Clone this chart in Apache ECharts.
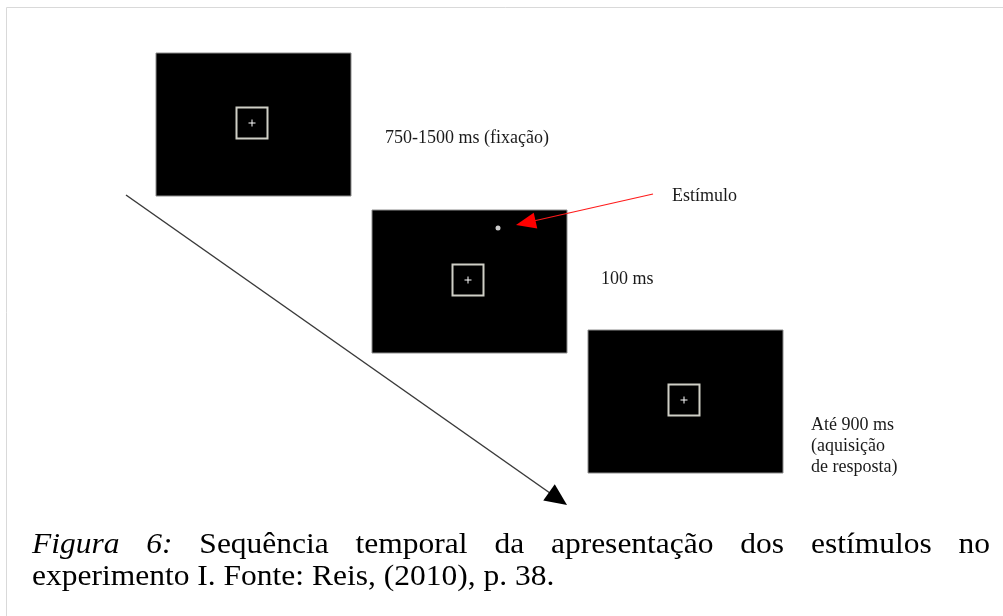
<!DOCTYPE html>
<html>
<head>
<meta charset="utf-8">
<script src="https://cdn.jsdelivr.net/npm/echarts@6/dist/echarts.min.js"></script>
<style>
  html, body { margin: 0; padding: 0; background: #fff; }
  #main { width: 1003px; height: 616px; }
</style>
</head>
<body>
<div id="main"></div>
<script>
// diagram coordinates (page pixels, y grows downward)
var screenX = [156, 372, 588];
var screenY = [53, 210, 330];
var fixX = [252, 468, 684];
var fixY = [123, 280, 400];
var stimulus = [[498, 228]];

// time arrow and pointer to the stimulus: [x1, y1, x2, y2]
var timeArrow = [[126, 195, 567, 505]];
var stimArrow = [[653, 194, 516, 225]];

// labels beside the screens
var labelText = ['750-1500 ms (fixação)', 'Estímulo', '100 ms', 'Até 900 ms', '(aquisição', 'de resposta)'];
var labelX = [385, 672, 601, 811, 811, 811];
var labelY = [138, 196, 279, 425, 446, 467];

// caption
var captionLine1 = ['Figura', '6:', 'Sequência', 'temporal', 'da', 'apresentação', 'dos', 'estímulos', 'no'];
var captionItalic = [true, true, false, false, false, false, false, false, false];
var captionLine2 = 'experimento I. Fonte: Reis, (2010), p. 38.';

var SCREEN_W = 195, SCREEN_H = 143, FIX_SIZE = 31;
var CAP_SIZE = 30, CAP_SCALE = 1.05, CAP_LEFT = 32, CAP_RIGHT = 990;
var serif = '"Liberation Serif", "Times New Roman", serif';

// justify caption line 1 the way the page does
var ctx = document.createElement('canvas').getContext('2d');
var widths = captionLine1.map(function (w, i) {
  ctx.font = (captionItalic[i] ? 'italic ' : '') + CAP_SIZE + 'px ' + serif;
  return ctx.measureText(w).width * CAP_SCALE;
});
var total = widths.reduce(function (a, b) { return a + b; }, 0);
var gap = (CAP_RIGHT - CAP_LEFT - total) / (captionLine1.length - 1);
var captionX = [];
var cx = CAP_LEFT;
for (var i = 0; i < widths.length; i++) { captionX.push(cx); cx += widths[i] + gap; }

var chart = echarts.init(document.getElementById('main'));

function renderFrame(params, api) {
  var p = api.coord([6, 7]);
  return {
    type: 'rect', shape: { x: p[0] + 0.5, y: p[1] + 0.5, width: 1100, height: 700 },
    style: { fill: null, stroke: '#d9d9d9', lineWidth: 1 }
  };
}

function renderScreen(params, api) {
  var i = params.dataIndex;
  var p0 = api.coord([screenX[i], screenY[i]]);
  var p1 = api.coord([screenX[i] + SCREEN_W, screenY[i] + SCREEN_H]);
  var c = api.coord([fixX[i], fixY[i]]);
  var h = FIX_SIZE / 2;
  return {
    type: 'group',
    children: [
      { type: 'rect', shape: { x: p0[0], y: p0[1], width: p1[0] - p0[0], height: p1[1] - p0[1] },
        style: { fill: '#000', stroke: '#8c8c8c', lineWidth: 1 } },
      { type: 'rect', shape: { x: c[0] - h, y: c[1] - h, width: FIX_SIZE, height: FIX_SIZE },
        style: { fill: null, stroke: '#cfcfc6', lineWidth: 2 } },
      { type: 'line', shape: { x1: c[0] - 3.5, y1: c[1], x2: c[0] + 3.5, y2: c[1] },
        style: { stroke: '#fff', lineWidth: 1 } },
      { type: 'line', shape: { x1: c[0], y1: c[1] - 3.5, x2: c[0], y2: c[1] + 3.5 },
        style: { stroke: '#fff', lineWidth: 1 } }
    ]
  };
}

function arrowRenderer(color, headColor, width, headLen, headHalf) {
  return function (params, api) {
    var a = api.coord([api.value(0), api.value(1)]);
    var b = api.coord([api.value(2), api.value(3)]);
    var dx = b[0] - a[0], dy = b[1] - a[1];
    var len = Math.sqrt(dx * dx + dy * dy);
    var ux = dx / len, uy = dy / len;
    var bx = b[0] - ux * headLen, by = b[1] - uy * headLen;
    return {
      type: 'group',
      children: [
        { type: 'line', shape: { x1: a[0], y1: a[1], x2: bx + ux * 2, y2: by + uy * 2 },
          style: { stroke: color, lineWidth: width } },
        { type: 'polygon',
          shape: { points: [b, [bx - uy * headHalf, by + ux * headHalf], [bx + uy * headHalf, by - ux * headHalf]] },
          style: { fill: headColor } }
      ]
    };
  };
}

function renderLabel(params, api) {
  var i = params.dataIndex;
  var p = api.coord([labelX[i], labelY[i]]);
  return {
    type: 'text', x: p[0], y: p[1],
    style: { text: labelText[i], fill: '#1a1a1a', font: '18px ' + serif, align: 'left', verticalAlign: 'middle' }
  };
}

function renderCaption(params, api) {
  var i = params.dataIndex;
  var line1 = i < captionLine1.length;
  var p = line1 ? api.coord([captionX[i], 545.5]) : api.coord([CAP_LEFT, 577.5]);
  var italic = line1 && captionItalic[i];
  return {
    type: 'text', x: p[0], y: p[1], scaleX: CAP_SCALE,
    style: {
      text: line1 ? captionLine1[i] : captionLine2,
      fill: '#000',
      font: (italic ? 'italic ' : '') + CAP_SIZE + 'px ' + serif,
      align: 'left', verticalAlign: 'middle'
    }
  };
}

chart.setOption({
  animation: false,
  grid: { left: 0, right: 0, top: 0, bottom: 0 },
  xAxis: { type: 'value', min: 0, max: 1003, show: false },
  yAxis: { type: 'value', min: 0, max: 616, inverse: true, show: false },
  series: [
    { type: 'custom', renderItem: renderFrame, clip: false, data: [[6, 7]], z: 0 },
    { type: 'custom', renderItem: renderScreen, clip: false,
      data: screenX.map(function (x, i) { return [x, screenY[i]]; }) },
    { type: 'scatter', data: stimulus, symbol: 'circle', symbolSize: 5,
      itemStyle: { color: '#fff' }, z: 5 },
    { type: 'custom', renderItem: arrowRenderer('#3a3a3a', '#000', 1.5, 22, 10), data: timeArrow, z: 4 },
    { type: 'custom', renderItem: arrowRenderer('#ff1a1a', '#ff0000', 1.2, 20, 8), data: stimArrow, z: 6 },
    { type: 'custom', renderItem: renderLabel,
      data: labelX.map(function (x, i) { return [x, labelY[i]]; }) },
    { type: 'custom', renderItem: renderCaption,
      data: captionLine1.map(function (w, i) { return [captionX[i], 545.5]; }).concat([[CAP_LEFT, 577.5]]) }
  ]
});
</script>
</body>
</html>
